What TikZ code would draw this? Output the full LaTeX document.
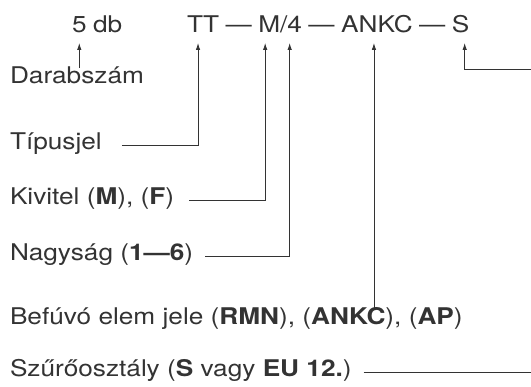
\documentclass[tikz,border=0pt]{standalone}
\usepackage{fontspec}
\setmainfont{TeX Gyre Heros}[FakeStretch=1.14]
\usetikzlibrary{arrows.meta,calc}
\definecolor{ink}{HTML}{333333}
\begin{document}
\begin{tikzpicture}[x=1pt,y=-1pt,
  every node/.style={inner sep=0pt, outer sep=0pt, text=ink},
  toptext/.style={font=\fontsize{23}{28}\selectfont, anchor=base west},
  lab/.style={font=\fontsize{23}{28}\selectfont, anchor=base west},
  conn/.style={draw=ink, line width=0.8pt},
  arr/.style={conn, -{Latex[length=7pt,width=4.5pt]}}]
\useasboundingbox (0,0) rectangle (531,387);
% top row
\node[toptext] (five) at (72,33) {5};
\node[toptext] (db) at ([xshift=6.5pt]five.base east) {db};
\node[toptext] (tt) at (187,33) {TT};
\node[toptext] (d1) at ([xshift=6.5pt]tt.base east) {—};
\node[toptext] (m) at ([xshift=6.5pt]d1.base east) {M};
\node[toptext] (sl) at (m.base east) {/};
\node[toptext] (four) at (sl.base east) {4};
\node[toptext] (d2) at ([xshift=6.5pt]four.base east) {—};
\node[toptext] (ankc) at ([xshift=6.5pt]d2.base east) {ANKC};
\node[toptext] (d3) at ([xshift=6.5pt]ankc.base east) {—};
\node[toptext] (s) at ([xshift=6.5pt]d3.base east) {S};
% arrow tips
\coordinate (tipDb) at ([yshift=-10pt]five.base);
\coordinate (tipTT) at ([xshift=-5pt,yshift=-10pt]tt.base);
\coordinate (tipM) at ([xshift=-4pt,yshift=-10pt]m.base);
\coordinate (tipF) at ([xshift=-5pt,yshift=-10pt]four.base);
\coordinate (tipA) at ([xshift=-3pt,yshift=-10pt]ankc.base);
\coordinate (tipS) at ([xshift=4pt,yshift=-10pt]s.base);
\coordinate (redge) at (531,69);
% labels
\node[lab] (darab) at (10,84) {Darabszám};
\node[lab] (tipus) at (10,150) {Típusjel};
\node[lab] (kivitel) at (10,205) {Kivitel (\textbf{M}), (\textbf{F})};
\node[lab] (nagy) at (10,261) {Nagyság (\textbf{1—6})};
\node[lab] (befuvo) at (10,325) {Befúvó elem jele (\textbf{RMN}), (\textbf{ANKC}), (\textbf{AP})};
\node[lab] (szuro) at (10,377) {Szűrőosztály (\textbf{S} vagy \textbf{EU 12.})};
% connectors
\draw[arr] ([yshift=-1pt]darab.north -| tipDb) -- (tipDb);
\draw[arr] ([xshift=20pt,yshift=5pt]tipus.base east) -| (tipTT);
\draw[arr] ([xshift=15pt,yshift=5pt]kivitel.base east) -| (tipM);
\draw[arr] ([xshift=12pt,yshift=5pt]nagy.base east) -| (tipF);
\draw[arr] ([yshift=-2pt]befuvo.north -| tipA) -- (tipA);
\draw[arr] (redge) -| (tipS);
\draw[conn] ([xshift=12pt,yshift=5pt]szuro.base east) -- ([yshift=5pt]szuro.base east -| redge);
\end{tikzpicture}
\end{document}
